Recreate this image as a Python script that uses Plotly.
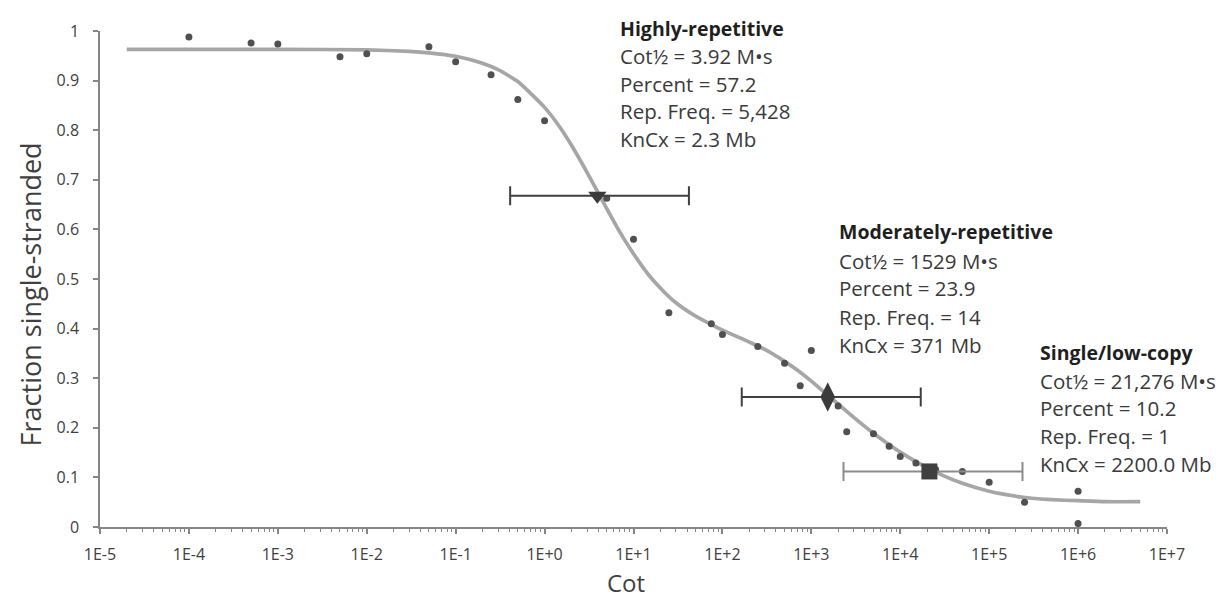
import plotly.graph_objects as go

# ---- data ----
cot_obs = [1e-4, 5e-4, 1e-3, 5e-3, 1e-2, 5e-2, 1e-1, 2.5e-1, 5e-1, 1, 5, 10, 25, 75, 100,
           250, 500, 750, 1000, 2000, 2500, 5000, 7500, 1e4, 1.5e4, 2.5e4, 5e4, 1e5,
           2.5e5, 1e6, 1e6]
fss_obs = [0.988, 0.976, 0.974, 0.948, 0.954, 0.968, 0.938, 0.912, 0.862, 0.819, 0.663, 0.580,
           0.432, 0.410, 0.388, 0.364, 0.330, 0.285, 0.356, 0.244, 0.192, 0.188, 0.163, 0.142,
           0.129, 0.116, 0.112, 0.090, 0.050, 0.072, 0.007]

# fitted curve
cot_fit = [2e-5, 1e-4, 1e-3, 1e-2, 3e-2, 5e-2, 1e-1, 2e-1, 3e-1, 5e-1, 1, 1.5, 2, 3, 5, 7,
           10, 15, 20, 30, 50, 70, 100, 200, 300, 500, 700, 1000, 1500, 2000, 3000, 5000,
           7000, 1e4, 1.5e4, 2e4, 3e4, 5e4, 1e5, 2e5, 3e5, 5e5, 1e6, 2e6, 5e6]
fss_fit = [0.963, 0.963, 0.963, 0.962, 0.959, 0.956, 0.949, 0.935, 0.922, 0.898, 0.846, 0.805,
           0.770, 0.715, 0.642, 0.595, 0.551, 0.507, 0.482, 0.452, 0.425, 0.411, 0.397, 0.373,
           0.358, 0.334, 0.316, 0.294, 0.267, 0.248, 0.221, 0.189, 0.170, 0.151, 0.132, 0.120,
           0.104, 0.088, 0.072, 0.062, 0.058, 0.055, 0.053, 0.051, 0.051]

# components
comp_names = ["Highly-repetitive", "Moderately-repetitive", "Single/low-copy"]
comp_cot_half = [3.92, 1529, 21276]
comp_y = [0.668, 0.262, 0.112]
comp_err_lo = [0.41, 165, 2300]
comp_err_hi = [42, 17000, 237000]
comp_lines = [
    ["Cot½ = 3.92 M•s", "Percent = 57.2", "Rep. Freq. = 5,428", "KnCx = 2.3 Mb"],
    ["Cot½ = 1529 M•s", "Percent = 23.9", "Rep. Freq. = 14", "KnCx = 371 Mb"],
    ["Cot½ = 21,276 M•s", "Percent = 10.2", "Rep. Freq. = 1", "KnCx = 2200.0 Mb"],
]

x_tick_vals = [10.0 ** k for k in range(-5, 8)]
x_tick_text = ["1E-5", "1E-4", "1E-3", "1E-2", "1E-1", "1E+0", "1E+1", "1E+2", "1E+3",
               "1E+4", "1E+5", "1E+6", "1E+7"]
minor_vals = [m * 10.0 ** k for k in range(-5, 7) for m in range(2, 10)]

# ---- layout geometry (page pixels; the page body has an 8px margin) ----
OFF = 8
W, H = 1228, 601
X0, X1, Y0, Y1 = 100, 1167, 527.5, 27.5     # plot area on the page
ML, MR = X0 - OFF, (OFF + W) - X1
MT, MB = Y1 - OFF, (OFF + H) - Y0

def px(xp):
    return (xp - X0) / (X1 - X0)

def py(yp):
    return (Y0 - yp) / (Y0 - Y1)

FONT = "Open Sans"
TXT = "#3a3a3a"
AX = "#404040"

fig = go.Figure()

fig.add_trace(go.Scatter(x=cot_fit, y=fss_fit, mode="lines",
                         line=dict(color="#a6a6a6", width=3.7, shape="spline", smoothing=0.5),
                         showlegend=False, hoverinfo="skip"))
fig.add_trace(go.Scatter(x=cot_obs, y=fss_obs, mode="markers",
                         marker=dict(color="#505050", size=7), showlegend=False))

symbols = ["triangle-down", "diamond-tall", "square"]
sizes = [16, 21, 16]
mcolors = ["#3b3b3b", "#3b3b3b", "#404040"]
ecolors = ["#404040", "#404040", "#8c8c8c"]
for i in range(3):
    c = comp_cot_half[i]
    fig.add_trace(go.Scatter(
        x=[c], y=[comp_y[i]], mode="markers",
        marker=dict(symbol=symbols[i], size=sizes[i], color=mcolors[i], line=dict(width=0)),
        error_x=dict(type="data", symmetric=False, array=[comp_err_hi[i] - c],
                     arrayminus=[c - comp_err_lo[i]], color=ecolors[i], thickness=2, width=9.5),
        showlegend=False, name=comp_names[i]))

# annotation blocks
block_pos = [(618, [25, 53, 81, 108, 136]),
             (837, [230, 259, 287, 316, 344]),
             (1038, [352, 380, 408, 436, 464])]
annots = []
for i, (x0, ys) in enumerate(block_pos):
    texts = ["<b>" + comp_names[i] + "</b>"] + comp_lines[i]
    for t, yy in zip(texts, ys):
        bold = t.startswith("<b>")
        annots.append(dict(x=px(x0), y=py(yy), xref="paper", yref="paper", text=t,
                           showarrow=False, xanchor="left", yanchor="middle",
                           font=dict(family=FONT, size=19.5 if bold else 20.5,
                                     color="#1f1f1f" if bold else TXT)))

# axis titles
annots.append(dict(x=px(625.5), y=py(583), xref="paper", yref="paper", text="Cot",
                   showarrow=False, xanchor="center", yanchor="middle",
                   font=dict(family=FONT, size=24, color=AX)))
annots.append(dict(x=px(30), y=py(293), xref="paper", yref="paper",
                   text="Fraction single-stranded", textangle=-90,
                   showarrow=False, xanchor="center", yanchor="middle",
                   font=dict(family=FONT, size=27, color=AX)))

fig.update_layout(
    width=W, height=H, autosize=False,
    margin=dict(l=ML, r=MR, t=MT, b=MB, pad=0),
    paper_bgcolor="white", plot_bgcolor="white",
    font=dict(family=FONT, color=TXT),
    annotations=annots,
    xaxis=dict(type="log", range=[-5, 7], tickmode="array", tickvals=x_tick_vals,
               ticktext=x_tick_text, ticks="outside", ticklen=5, tickwidth=1.5,
               tickcolor="#868686", showline=True, linecolor="#868686", linewidth=1.5,
               showgrid=False, zeroline=False, ticklabelstandoff=7,
               tickfont=dict(family=FONT, size=16, color=AX),
               minor=dict(tickmode="array", tickvals=minor_vals, ticks="outside", ticklen=3,
                          tickwidth=1, tickcolor="#868686", showgrid=False)),
    yaxis=dict(range=[0, 1], dtick=0.1, tick0=0, ticks="outside", ticklen=5, tickwidth=1.5,
               tickcolor="#868686", showline=True, linecolor="#868686", linewidth=1.5,
               showgrid=False, zeroline=False, ticklabelstandoff=11,
               tickfont=dict(family=FONT, size=16, color=AX)),
)

fig.write_html("out.html")
